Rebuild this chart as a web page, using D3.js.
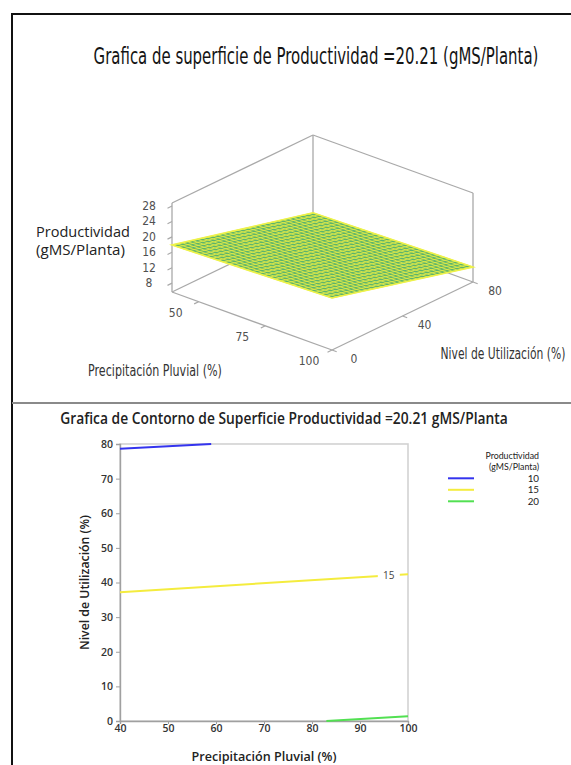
<!DOCTYPE html>
<html>
<head>
<meta charset="utf-8">
<script src="https://cdn.jsdelivr.net/npm/d3@7"></script>
<style>
body{margin:0;background:#fff;}
</style>
</head>
<body>
<svg id="chart" width="571" height="765"></svg>
<script>
/////////////////////////////data
// 3d surface
var precipRange=[40,100];
var nivelRange=[0,80];
var zRange=[5.7,28.8];
var precipTicks3d=[50,75,100];
var nivelTicks3d=[0,40,80];
var zTicks3d=[8,12,16,20,24,28];
var surfacePrecip=[40,100];
var surfaceNivel=[0,80];
var surfaceZ=[[17.9,8.6],[19.2,9.6]];   //rows = precip, cols = nivel

// contour
var contourLevels=[10,15,20];
var contourColors=["#3434ee","#f4ec3e","#52e052"];
var contour10=[[40,78.6],[59,80]];
var contour15=[[40,37.2],[100,42.4]];
var contour20=[[83,0],[100,1.4]];
var contourLines=[contour10,contour15,contour20];
var xTicks=[40,50,60,70,80,90,100];
var yTicks=[0,10,20,30,40,50,60,70,80];

var narrow="'Liberation Sans Narrow','DejaVu Sans Condensed',sans-serif";
var segoe="'Open Sans','Noto Sans',sans-serif";

var svg=d3.select("#chart");

// text squeezed to a given width (keeps glyph height)
function fitText(parent,x,y,str,width,rot){
	var t=parent.append("text").attr("x",0).attr("y",0).text(str);
	var w=t.node().getComputedTextLength();
	var k=width/w;
	t.attr("transform","translate("+x+","+y+")"+(rot?" rotate("+rot+")":"")+" scale("+k+",1)");
	return t;
}

/////////////////////////////frame
svg.append("line").attr("x1",12).attr("y1",14).attr("x2",571).attr("y2",14)
	.attr("stroke","#111").attr("stroke-width",2);
svg.append("line").attr("x1",12).attr("y1",13).attr("x2",12).attr("y2",765)
	.attr("stroke","#111").attr("stroke-width",2);
svg.append("line").attr("x1",12).attr("y1",403).attr("x2",571).attr("y2",403)
	.attr("stroke","#8a8a8a").attr("stroke-width",2);

/////////////////////////////3d surface panel
var t3=svg.append("g").attr("font-family",narrow).attr("fill","#141414").attr("font-size",23).attr("text-anchor","middle");
fitText(t3,316,64,"Grafica de superficie de Productividad =20.21 (gMS/Planta)",445);

var px=d3.scaleLinear().domain(precipRange).range([0,1]);
var nx=d3.scaleLinear().domain(nivelRange).range([0,1]);
var zy=d3.scaleLinear().domain(zRange).range([0,89]);
var origin=[172,292], pVec=[160,58], nVec=[141,-68];

function proj(p,n,z){
	var a=px(p), b=nx(n);
	return [origin[0]+a*pVec[0]+b*nVec[0], origin[1]+a*pVec[1]+b*nVec[1]-zy(z)];
}
// z on the surface from the corner values
function zAt(p,n){
	var t=d3.scaleLinear().domain(surfacePrecip).range([0,1])(p);
	var z0=d3.interpolateNumber(surfaceZ[0][0],surfaceZ[1][0])(t);
	var z1=d3.interpolateNumber(surfaceZ[0][1],surfaceZ[1][1])(t);
	var u=d3.scaleLinear().domain(surfaceNivel).range([0,1])(n);
	return z0+(z1-z0)*u;
}

var p0=precipRange[0],p1=precipRange[1],n0=nivelRange[0],n1=nivelRange[1],zl=zRange[0],zh=zRange[1];
var boxEdges=[
	[[p0,n0,zl],[p1,n0,zl]],[[p1,n0,zl],[p1,n1,zl]],[[p1,n1,zl],[p0,n1,zl]],[[p0,n1,zl],[p0,n0,zl]],
	[[p0,n0,zl],[p0,n0,zh]],[[p1,n1,zl],[p1,n1,zh]],[[p0,n1,zl],[p0,n1,zh]],
	[[p0,n0,zh],[p0,n1,zh]],[[p0,n1,zh],[p1,n1,zh]]
];
var box=svg.append("g").attr("class","box");
boxEdges.forEach(function(e){
	var a=proj.apply(null,e[0]), b=proj.apply(null,e[1]);
	box.append("line").attr("x1",a[0]).attr("y1",a[1]).attr("x2",b[0]).attr("y2",b[1])
		.attr("stroke","#a9a9a9").attr("stroke-width",1.3);
});

// ticks + labels
var tk=svg.append("g").attr("class","ticks3d").attr("font-family",narrow).attr("font-size",12).attr("fill","#505050");
zTicks3d.forEach(function(z){
	var a=proj(p0,n0,z);
	tk.append("line").attr("x1",a[0]).attr("y1",a[1]).attr("x2",a[0]-4.5).attr("y2",a[1]+2.2)
		.attr("stroke","#a9a9a9").attr("stroke-width",1.2);
	tk.append("text").attr("x",149).attr("y",a[1]+4).attr("text-anchor","middle").text(z);
});
precipTicks3d.forEach(function(p){
	var a=proj(p,n0,zl);
	tk.append("line").attr("x1",a[0]).attr("y1",a[1]).attr("x2",a[0]-4.5).attr("y2",a[1]+2.2)
		.attr("stroke","#a9a9a9").attr("stroke-width",1.2);
	tk.append("text").attr("x",a[0]-23).attr("y",a[1]+15).attr("text-anchor","middle").text(p);
});
nivelTicks3d.forEach(function(n){
	var a=proj(p1,n,zl);
	tk.append("line").attr("x1",a[0]).attr("y1",a[1]).attr("x2",a[0]+4.7).attr("y2",a[1]+1.7)
		.attr("stroke","#a9a9a9").attr("stroke-width",1.2);
	tk.append("text").attr("x",a[0]+22).attr("y",a[1]+13).attr("text-anchor","middle").text(n);
});

// surface
var surf=svg.append("g").attr("class","surface");
var corners=[proj(p0,n0,zAt(p0,n0)),proj(p1,n0,zAt(p1,n0)),proj(p1,n1,zAt(p1,n1)),proj(p0,n1,zAt(p0,n1))];
surf.append("polygon").attr("points",corners.map(function(c){return c.join(",");}).join(" "))
	.attr("fill","#5cb46c");
var div=28;
for(var i=0;i<=div;i++){
	var p=p0+(p1-p0)*i/div, n=n0+(n1-n0)*i/div;
	var a=proj(p,n0,zAt(p,n0)), b=proj(p,n1,zAt(p,n1));
	surf.append("line").attr("x1",a[0]).attr("y1",a[1]).attr("x2",b[0]).attr("y2",b[1])
		.attr("stroke","#e0ea48").attr("stroke-width",0.9);
	a=proj(p0,n,zAt(p0,n)); b=proj(p1,n,zAt(p1,n));
	surf.append("line").attr("x1",a[0]).attr("y1",a[1]).attr("x2",b[0]).attr("y2",b[1])
		.attr("stroke","#e0ea48").attr("stroke-width",0.9);
}
surf.append("polygon").attr("points",corners.map(function(c){return c.join(",");}).join(" "))
	.attr("fill","none").attr("stroke","#eef24a").attr("stroke-width",1.6);

// titles 3d
var zt=svg.append("g").attr("font-family",segoe).attr("font-size",14.5).attr("fill","#222");
fitText(zt,36,237,"Productividad",94);
fitText(zt,36,255,"(gMS/Planta)",89);
var at=svg.append("g").attr("font-family",narrow).attr("font-size",16).attr("fill","#333").attr("text-anchor","middle");
fitText(at,155,376,"Precipitación Pluvial (%)",134);
fitText(at,503,359,"Nivel de Utilización (%)",125);

/////////////////////////////contour panel
var ct=svg.append("g").attr("font-family",segoe).attr("font-weight",600).attr("font-size",15.5).attr("fill","#222").attr("text-anchor","middle");
fitText(ct,284,424,"Grafica de Contorno de Superficie Productividad =20.21 gMS/Planta",448);

var x=d3.scaleLinear().domain([40,100]).range([120,408]);
var y=d3.scaleLinear().domain([0,80]).range([721,444]);

svg.append("rect").attr("x",x(40)).attr("y",y(80)).attr("width",x(100)-x(40)).attr("height",y(0)-y(80))
	.attr("fill","#fff").attr("stroke","#d2d2d2").attr("stroke-width",1.6);

var gx=svg.append("g").attr("transform","translate(0,"+y(0)+")")
	.call(d3.axisBottom(x).tickValues(xTicks).tickSize(3).tickPadding(1));
var gy=svg.append("g").attr("transform","translate("+x(40)+",0)")
	.call(d3.axisLeft(y).tickValues(yTicks).tickSize(4).tickPadding(3));
[gx,gy].forEach(function(g){
	g.select(".domain").attr("stroke","#a0a0a0").attr("stroke-width",1.4);
	g.selectAll(".tick line").attr("stroke","#a0a0a0");
	g.selectAll(".tick text").attr("font-family",segoe).attr("font-size",10.5).attr("font-weight",600).attr("fill","#333");
});

var line=d3.line().x(function(d){return x(d[0]);}).y(function(d){return y(d[1]);});
svg.append("g").selectAll("path").data(contourLines).join("path")
	.attr("d",line).attr("fill","none").attr("stroke-width",2)
	.attr("stroke",function(d,i){return contourColors[i];});

// level label on the 15 line
var lp=96, ln=contour15[0][1]+(contour15[1][1]-contour15[0][1])*(lp-contour15[0][0])/(contour15[1][0]-contour15[0][0]);
svg.append("rect").attr("x",x(lp)-11).attr("y",y(ln)-6).attr("width",22).attr("height",12).attr("fill","#fff");
svg.append("text").attr("x",x(lp)).attr("y",y(ln)+3.5).attr("text-anchor","middle").attr("font-family",segoe)
	.attr("font-size",10).attr("fill","#444").text(contourLevels[1]);

// legend
var lg=svg.append("g").attr("font-family","Lato,'DejaVu Sans',sans-serif").attr("fill","#222");
lg.append("text").attr("x",539).attr("y",459).attr("text-anchor","end").attr("font-size",8.8).text("Productividad");
lg.append("text").attr("x",539).attr("y",469.5).attr("text-anchor","end").attr("font-size",8.8).text("(gMS/Planta)");
contourLevels.forEach(function(lv,i){
	var yy=478.3+i*11.5;
	lg.append("line").attr("x1",448).attr("x2",474).attr("y1",yy).attr("y2",yy)
		.attr("stroke",contourColors[i]).attr("stroke-width",2);
	lg.append("text").attr("x",539).attr("y",yy+3.5).attr("text-anchor","end").attr("font-size",9.8).text(lv);
});

// axis titles
var xt=svg.append("g").attr("font-family",segoe).attr("font-weight",600).attr("font-size",13).attr("fill","#222").attr("text-anchor","middle");
fitText(xt,264,761,"Precipitación Pluvial (%)",145);
fitText(xt,89,582.5,"Nivel de Utilización (%)",135,-90);
</script>
</body>
</html>
